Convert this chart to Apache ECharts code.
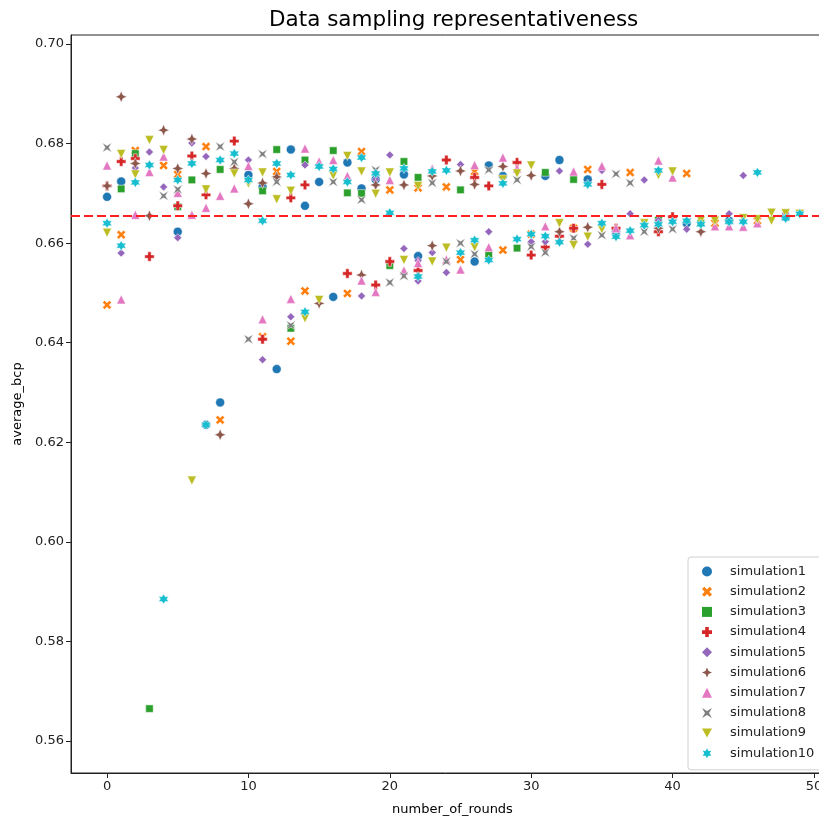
<!DOCTYPE html>
<html>
<head>
<meta charset="utf-8">
<script src="https://cdn.jsdelivr.net/npm/echarts@6/dist/echarts.min.js"></script>
<style>html,body{margin:0;padding:0;background:#fff}#c{width:819px;height:818px}</style>
</head>
<body>
<div id="c"></div>
<script>
// ---- data: [number_of_rounds, average_bcp] ----
const sim1 = [[0,0.6693],[1,0.6724],[5,0.6623],[7,0.6235],[8,0.6280],[10,0.6737],[11,0.6713],[12,0.6347],[13,0.6788],[14,0.6675],[15,0.6723],[16,0.6492],[17,0.6762],[18,0.6710],[19,0.6728],[21,0.6738],[22,0.6574],[26,0.6563],[27,0.6756],[28,0.6735],[31,0.6735],[32,0.6767],[34,0.6728],[36,0.6623],[41,0.6640],[44,0.6645],[48,0.6652]];
const sim2 = [[0,0.6476],[1,0.6617],[2,0.6786],[4,0.6756],[5,0.6738],[7,0.6794],[8,0.6245],[11,0.6412],[12,0.6744],[13,0.6403],[14,0.6504],[17,0.6499],[18,0.6784],[20,0.6707],[22,0.6711],[24,0.6713],[25,0.6567],[26,0.6744],[28,0.6586],[30,0.6618],[33,0.6630],[34,0.6748],[37,0.6742],[41,0.6740],[43,0.6640],[46,0.6645]];
const sim3 = [[1,0.6709],[2,0.6780],[3,0.5665],[5,0.6673],[6,0.6727],[8,0.6748],[11,0.6705],[12,0.6788],[13,0.6429],[14,0.6767],[16,0.6786],[17,0.6701],[18,0.6700],[20,0.6555],[21,0.6764],[22,0.6732],[25,0.6707],[27,0.6576],[29,0.6590],[31,0.6742],[33,0.6728],[39,0.6646],[42,0.6640]];
const sim4 = [[0,0.6715],[1,0.6764],[2,0.6770],[3,0.6573],[5,0.6675],[6,0.6775],[7,0.6697],[9,0.6805],[11,0.6407],[13,0.6691],[14,0.6717],[17,0.6539],[19,0.6516],[20,0.6563],[22,0.6545],[24,0.6767],[26,0.6732],[27,0.6715],[29,0.6762],[30,0.6576],[31,0.6592],[32,0.6614],[33,0.6630],[35,0.6718],[36,0.6630],[39,0.6623],[40,0.6653]];
const sim5 = [[1,0.6580],[2,0.6751],[3,0.6783],[4,0.6713],[5,0.6611],[6,0.6801],[7,0.6774],[10,0.6767],[11,0.6366],[13,0.6452],[14,0.6757],[18,0.6494],[19,0.6728],[20,0.6777],[21,0.6589],[22,0.6565],[22,0.6524],[23,0.6581],[24,0.6541],[25,0.6758],[27,0.6623],[30,0.6603],[31,0.6603],[32,0.6745],[34,0.6598],[35,0.6746],[37,0.6659],[38,0.6727],[39,0.6646],[41,0.6628],[44,0.6659],[45,0.6736],[48,0.6660]];
const sim6 = [[0,0.6715],[1,0.6894],[2,0.6760],[3,0.6655],[4,0.6827],[5,0.6750],[6,0.6809],[7,0.6740],[8,0.6215],[9,0.6750],[10,0.6679],[11,0.6721],[12,0.6733],[15,0.6479],[18,0.6536],[19,0.6717],[21,0.6717],[23,0.6595],[23,0.6735],[25,0.6745],[26,0.6718],[28,0.6754],[30,0.6736],[32,0.6623],[34,0.6632],[39,0.6630],[42,0.6623]];
const sim7 = [[0,0.6756],[1,0.6487],[2,0.6657],[3,0.6743],[4,0.6774],[5,0.6701],[6,0.6657],[7,0.6671],[8,0.6695],[9,0.6710],[10,0.6755],[11,0.6447],[13,0.6488],[14,0.6790],[15,0.6764],[16,0.6767],[17,0.6735],[18,0.6525],[19,0.6502],[20,0.6727],[21,0.6545],[22,0.6560],[23,0.6750],[24,0.6567],[25,0.6547],[26,0.6757],[27,0.6592],[28,0.6772],[29,0.6750],[31,0.6634],[33,0.6744],[35,0.6755],[36,0.6630],[37,0.6616],[39,0.6766],[40,0.6732],[43,0.6634],[44,0.6634],[45,0.6633],[46,0.6640]];
const sim8 = [[0,0.6792],[4,0.6695],[5,0.6708],[8,0.6794],[9,0.6763],[10,0.6407],[11,0.6779],[12,0.6723],[13,0.6435],[16,0.6723],[18,0.6687],[19,0.6747],[20,0.6521],[21,0.6534],[23,0.6721],[24,0.6563],[25,0.6600],[26,0.6578],[27,0.6747],[29,0.6727],[30,0.6593],[31,0.6581],[33,0.6610],[35,0.6616],[36,0.6739],[37,0.6721],[38,0.6623],[40,0.6628]];
const sim9 = [[0,0.6621],[1,0.6779],[2,0.6738],[3,0.6807],[4,0.6787],[6,0.6123],[7,0.6708],[9,0.6740],[10,0.6720],[11,0.6742],[12,0.6688],[13,0.6705],[14,0.6449],[15,0.6486],[16,0.6736],[17,0.6775],[18,0.6744],[19,0.6699],[20,0.6742],[21,0.6566],[22,0.6715],[23,0.6563],[24,0.6591],[26,0.6592],[28,0.6728],[29,0.6740],[30,0.6756],[32,0.6640],[33,0.6596],[34,0.6613],[35,0.6628],[38,0.6640],[39,0.6737],[40,0.6744],[42,0.6646],[43,0.6645],[45,0.6650],[46,0.6648],[47,0.6661],[47,0.6645],[48,0.6660],[49,0.6659]];
const sim10 = [[0,0.6640],[1,0.6595],[2,0.6722],[3,0.6757],[4,0.5885],[5,0.6727],[6,0.6760],[7,0.6235],[8,0.6767],[9,0.6780],[10,0.6727],[11,0.6645],[12,0.6760],[13,0.6737],[14,0.6462],[15,0.6754],[16,0.6749],[17,0.6723],[18,0.6772],[19,0.6740],[20,0.6661],[21,0.6750],[22,0.6533],[23,0.6744],[24,0.6746],[25,0.6581],[26,0.6606],[27,0.6566],[28,0.6720],[29,0.6608],[30,0.6618],[31,0.6614],[32,0.6602],[34,0.6718],[35,0.6640],[36,0.6613],[37,0.6625],[38,0.6636],[39,0.6746],[39,0.6638],[40,0.6643],[41,0.6645],[42,0.6638],[44,0.6643],[45,0.6643],[46,0.6742],[48,0.6650],[49,0.6659]];
const seriesNames = ['simulation1','simulation2','simulation3','simulation4','simulation5','simulation6','simulation7','simulation8','simulation9','simulation10'];
const referenceLine = 0.66545;
const xMin = -2.55, xMax = 50.57;
const yMin = 0.55357, yMax = 0.70181;
const xTicks = [0,10,20,30,40,50];
const yTicks = [0.56,0.58,0.60,0.62,0.64,0.66,0.68,0.70];

// ---- styles ----
const allData = [sim1,sim2,sim3,sim4,sim5,sim6,sim7,sim8,sim9,sim10];
const colors = ['#1f77b4','#ff7f0e','#2ca02c','#d62728','#9467bd','#8c564b','#e377c2','#7f7f7f','#bcbd22','#17becf'];
const symbols = [
  'circle',
  'path://M0,2.3 L2.3,0 L5,2.7 L7.7,0 L10,2.3 L7.3,5 L10,7.7 L7.7,10 L5,7.3 L2.3,10 L0,7.7 L2.7,5 Z',
  'rect',
  'path://M3.2,0 H6.8 V3.2 H10 V6.8 H6.8 V10 H3.2 V6.8 H0 V3.2 H3.2 Z',
  'diamond',
  'path://M5,0 L6.5,3.5 L10,5 L6.5,6.5 L5,10 L3.5,6.5 L0,5 L3.5,3.5 Z',
  'triangle',
  'path://M0,0 L5,3 L10,0 L7,5 L10,10 L5,7 L0,10 L3,5 Z',
  'path://M0,0 L10,0 L5,9 Z',
  'path://M5,0 L6.4,2.6 L9.3,2.5 L7.8,5 L9.3,7.5 L6.4,7.4 L5,10 L3.6,7.4 L0.7,7.5 L2.2,5 L0.7,2.5 L3.6,2.6 Z'
];
const sizes = [9,9,7.5,9.5,8,11.5,9,9.5,9,10];

const series = allData.map((d,i)=>({
  name: seriesNames[i],
  type: 'scatter',
  data: d,
  symbol: symbols[i],
  symbolSize: sizes[i],
  itemStyle: {color: colors[i], borderColor: '#fff', borderWidth: 0.5, opacity: 1},
  emphasis: {disabled: true},
  z: 2
}));
series.push({
  type: 'line',
  data: [[xMin, referenceLine],[xMax, referenceLine]],
  showSymbol: false, silent: true, z: 5,
  lineStyle: {color: '#ff2020', type: [9,4], width: 2},
  emphasis: {disabled: true}
});

const chart = echarts.init(document.getElementById('c'), null, {renderer: 'canvas'});
chart.setOption({
  animation: false,
  backgroundColor: '#fff',
  textStyle: {fontFamily: 'DejaVu Sans'},
  title: {
    text: 'Data sampling representativeness',
    left: 264, top: 4,
    textStyle: {fontFamily: 'DejaVu Sans', fontSize: 21.5, fontWeight: 'normal', color: '#000'}
  },
  grid: {left: 71, top: 35, right: -3, bottom: 45, containLabel: false, outerBoundsMode: 'none',
         show: true, borderColor: '#222', borderWidth: 1, backgroundColor: '#fff'},
  xAxis: {
    type: 'value', min: xMin, max: xMax,
    name: 'number_of_rounds', nameLocation: 'middle', nameGap: 30,
    nameTextStyle: {fontSize: 13, color: '#000', padding: [0,0,0,12]},
    axisLine: {show: true, onZero: false, lineStyle: {color: '#222', width: 1}},
    axisTick: {show: true, customValues: xTicks, length: 5, inside: false, lineStyle: {color: '#222'}},
    axisLabel: {customValues: xTicks, fontSize: 13, color: '#222', margin: 7, formatter: v => String(Math.round(v))},
    splitLine: {show: false}
  },
  yAxis: {
    type: 'value', min: yMin, max: yMax,
    name: 'average_bcp', nameLocation: 'middle', nameGap: 46, nameRotate: 90,
    nameTextStyle: {fontSize: 13, color: '#000'},
    axisLine: {show: true, onZero: false, lineStyle: {color: '#222', width: 1}},
    axisTick: {show: true, customValues: yTicks, length: 5, lineStyle: {color: '#222'}},
    axisLabel: {customValues: yTicks, fontSize: 13, color: '#222', margin: 7, formatter: v => v.toFixed(2)},
    splitLine: {show: false}
  },
  legend: {
    data: seriesNames.map((n,i)=>({name: n, icon: symbols[i]})),
    orient: 'vertical',
    left: 688, top: 557,
    padding: [8, 20, 10, 14],
    itemWidth: 10, itemHeight: 10, itemGap: 7.2,
    symbolKeepAspect: true,
    itemStyle: {borderWidth: 0},
    backgroundColor: '#fff', borderColor: '#d0d0d0', borderWidth: 1, borderRadius: 3,
    textStyle: {fontSize: 13, color: '#222', fontFamily: 'DejaVu Sans', padding: [0,0,0,13]},
    selectedMode: false
  },
  series: series
});
</script>
</body>
</html>
